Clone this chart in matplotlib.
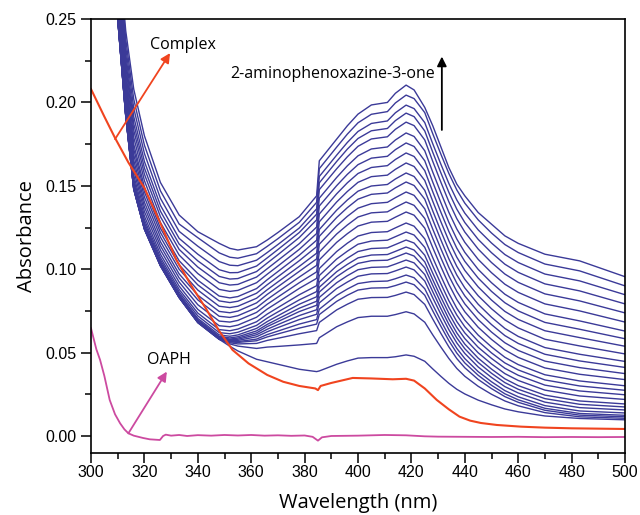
import matplotlib
matplotlib.use('Agg')
import matplotlib.pyplot as plt

# wavelength grid (nm) for the blue time-scan spectra
scan_wl = [300, 310, 313, 316, 320, 326, 333, 340, 348, 352, 355, 362, 366, 370, 378, 384.5, 385.5,
           392, 396, 400, 405, 411, 414, 418, 421, 425, 428, 431, 434, 437, 440, 445, 450, 455,
           460, 470, 483, 500]

# absorbance of each scan, first scan (lowest) to last scan (highest)
scans = [
    [0.500, 0.250, 0.192, 0.148, 0.124, 0.102, 0.083, 0.068, 0.058, 0.0538, 0.051, 0.046, 0.0445, 0.043, 0.040, 0.0386, 0.0390,
     0.0430, 0.0450, 0.0467, 0.0470, 0.0470, 0.0475, 0.0486, 0.0478, 0.0448, 0.0402, 0.0358, 0.0316, 0.0280, 0.0252, 0.0215, 0.0187, 0.0162,
     0.0145, 0.0120, 0.0105, 0.0097],
    [0.500, 0.250, 0.192, 0.148, 0.124, 0.102, 0.083, 0.068, 0.058, 0.0552, 0.0539, 0.0525, 0.0533, 0.0537, 0.0546, 0.0555, 0.0589,
     0.0655, 0.0684, 0.0710, 0.0718, 0.0718, 0.0728, 0.0745, 0.0732, 0.0682, 0.0606, 0.0534, 0.0465, 0.0405, 0.0358, 0.0298, 0.0250, 0.0210,
     0.0181, 0.0140, 0.0115, 0.0106],
    [0.500, 0.250, 0.192, 0.148, 0.124, 0.102, 0.083, 0.068, 0.058, 0.0559, 0.0552, 0.0555, 0.0573, 0.0586, 0.0613, 0.0632, 0.0681,
     0.0756, 0.0790, 0.0820, 0.0830, 0.0831, 0.0843, 0.0863, 0.0848, 0.0789, 0.0701, 0.0616, 0.0535, 0.0464, 0.0409, 0.0339, 0.0284, 0.0236,
     0.0202, 0.0154, 0.0125, 0.0115],
    [0.5005, 0.2503, 0.1923, 0.1483, 0.1243, 0.1023, 0.0832, 0.0683, 0.0583, 0.0564, 0.0561, 0.0571, 0.0594, 0.0612, 0.0647, 0.0671, 0.0728,
     0.0807, 0.0844, 0.0875, 0.0887, 0.0889, 0.0902, 0.0923, 0.0907, 0.0844, 0.0750, 0.0659, 0.0572, 0.0497, 0.0438, 0.0364, 0.0304, 0.0253,
     0.0217, 0.0166, 0.0135, 0.0124],
    [0.5005, 0.2503, 0.1923, 0.1483, 0.1243, 0.1023, 0.0832, 0.0683, 0.0583, 0.0567, 0.0566, 0.0581, 0.0608, 0.0629, 0.0671, 0.0698, 0.0760,
     0.0843, 0.0881, 0.0914, 0.0926, 0.0929, 0.0943, 0.0965, 0.0949, 0.0883, 0.0786, 0.0692, 0.0602, 0.0525, 0.0464, 0.0386, 0.0325, 0.0272,
     0.0235, 0.0182, 0.0150, 0.0138],
    [0.501, 0.2505, 0.1925, 0.1486, 0.1246, 0.1025, 0.0835, 0.0686, 0.0586, 0.0572, 0.0573, 0.0595, 0.0625, 0.0650, 0.0698, 0.0730, 0.0798,
     0.0884, 0.0923, 0.0958, 0.0972, 0.0974, 0.0990, 0.1013, 0.0996, 0.0929, 0.0828, 0.0731, 0.0638, 0.0558, 0.0495, 0.0414, 0.0351, 0.0296,
     0.0258, 0.0203, 0.0170, 0.0156],
    [0.5015, 0.2508, 0.1928, 0.1489, 0.1248, 0.1028, 0.0837, 0.0688, 0.0589, 0.0577, 0.0580, 0.0607, 0.0640, 0.0668, 0.0722, 0.0757, 0.0831,
     0.0919, 0.0961, 0.0997, 0.1011, 0.1014, 0.1031, 0.1055, 0.1038, 0.0968, 0.0865, 0.0765, 0.0670, 0.0588, 0.0523, 0.0441, 0.0376, 0.0320,
     0.0280, 0.0224, 0.0190, 0.0174],
    [0.502, 0.251, 0.193, 0.1492, 0.1251, 0.1030, 0.0840, 0.0691, 0.0592, 0.0581, 0.0587, 0.0618, 0.0656, 0.0686, 0.0746, 0.0784, 0.0863,
     0.0955, 0.0998, 0.1035, 0.1051, 0.1054, 0.1072, 0.1097, 0.1079, 0.1008, 0.0902, 0.0800, 0.0702, 0.0618, 0.0551, 0.0467, 0.0401, 0.0343,
     0.0302, 0.0245, 0.0210, 0.0192],
    [0.503, 0.2515, 0.1935, 0.1498, 0.1257, 0.1035, 0.0845, 0.0697, 0.0597, 0.0588, 0.0595, 0.0630, 0.0669, 0.0702, 0.0766, 0.0808, 0.0892,
     0.0985, 0.1029, 0.1068, 0.1085, 0.1088, 0.1107, 0.1133, 0.1115, 0.1044, 0.0937, 0.0834, 0.0736, 0.0651, 0.0584, 0.0499, 0.0432, 0.0374,
     0.0333, 0.0275, 0.0240, 0.0219],
    [0.5045, 0.2523, 0.1943, 0.1507, 0.1265, 0.1043, 0.0852, 0.0705, 0.0606, 0.0598, 0.0606, 0.0645, 0.0686, 0.0721, 0.0790, 0.0835, 0.0924,
     0.1020, 0.1066, 0.1106, 0.1124, 0.1128, 0.1148, 0.1175, 0.1157, 0.1084, 0.0976, 0.0872, 0.0772, 0.0686, 0.0618, 0.0532, 0.0465, 0.0406,
     0.0364, 0.0305, 0.0270, 0.0247],
    [0.507, 0.2535, 0.1956, 0.1522, 0.1279, 0.1055, 0.0864, 0.0720, 0.0620, 0.0613, 0.0622, 0.0663, 0.0707, 0.0744, 0.0816, 0.0866, 0.0962,
     0.1061, 0.1108, 0.1150, 0.1169, 0.1174, 0.1195, 0.1223, 0.1205, 0.1131, 0.1020, 0.0914, 0.0812, 0.0725, 0.0655, 0.0568, 0.0498, 0.0438,
     0.0396, 0.0336, 0.0300, 0.0274],
    [0.510, 0.255, 0.1971, 0.1540, 0.1296, 0.1070, 0.0879, 0.0737, 0.0638, 0.0631, 0.0641, 0.0685, 0.0731, 0.0770, 0.0847, 0.0901, 0.1004,
     0.1106, 0.1156, 0.1199, 0.1220, 0.1225, 0.1248, 0.1277, 0.1258, 0.1182, 0.1069, 0.0960, 0.0856, 0.0766, 0.0695, 0.0605, 0.0534, 0.0472,
     0.0428, 0.0367, 0.0330, 0.0301],
    [0.514, 0.257, 0.1991, 0.1564, 0.1318, 0.1090, 0.0899, 0.0759, 0.0661, 0.0655, 0.0665, 0.0712, 0.0761, 0.0802, 0.0885, 0.0945, 0.1056,
     0.1161, 0.1213, 0.1259, 0.1282, 0.1287, 0.1312, 0.1343, 0.1324, 0.1246, 0.1129, 0.1017, 0.0910, 0.0818, 0.0745, 0.0652, 0.0579, 0.0516,
     0.0471, 0.0408, 0.0370, 0.0338],
    [0.519, 0.2595, 0.2017, 0.1594, 0.1346, 0.1115, 0.0923, 0.0787, 0.0689, 0.0683, 0.0693, 0.0741, 0.0790, 0.0833, 0.0919, 0.0984, 0.1103,
     0.1211, 0.1265, 0.1313, 0.1338, 0.1344, 0.1371, 0.1403, 0.1383, 0.1304, 0.1185, 0.1070, 0.0961, 0.0867, 0.0792, 0.0698, 0.0623, 0.0559,
     0.0513, 0.0449, 0.0410, 0.0374],
    [0.524, 0.262, 0.2042, 0.1624, 0.1374, 0.1140, 0.0948, 0.0816, 0.0718, 0.0711, 0.0721, 0.0769, 0.0819, 0.0864, 0.0953, 0.1023, 0.1150,
     0.1260, 0.1317, 0.1366, 0.1393, 0.1401, 0.1429, 0.1463, 0.1443, 0.1362, 0.1240, 0.1124, 0.1012, 0.0916, 0.0840, 0.0744, 0.0668, 0.0602,
     0.0555, 0.0490, 0.0450, 0.0411],
    [0.529, 0.2645, 0.2068, 0.1654, 0.1402, 0.1165, 0.0972, 0.0844, 0.0747, 0.0739, 0.0749, 0.0798, 0.0849, 0.0895, 0.0987, 0.1062, 0.1197,
     0.1310, 0.1369, 0.1420, 0.1449, 0.1457, 0.1488, 0.1523, 0.1502, 0.1420, 0.1296, 0.1177, 0.1063, 0.0965, 0.0888, 0.0790, 0.0712, 0.0645,
     0.0597, 0.0530, 0.0490, 0.0447],
    [0.5345, 0.2673, 0.2096, 0.1687, 0.1433, 0.1193, 0.1000, 0.0875, 0.0778, 0.0770, 0.0778, 0.0826, 0.0877, 0.0924, 0.1017, 0.1096, 0.1238,
     0.1354, 0.1415, 0.1468, 0.1499, 0.1508, 0.1541, 0.1577, 0.1556, 0.1473, 0.1349, 0.1230, 0.1116, 0.1017, 0.0939, 0.0841, 0.0763, 0.0696,
     0.0648, 0.0580, 0.0540, 0.0492],
    [0.540, 0.270, 0.2124, 0.1720, 0.1464, 0.1220, 0.1026, 0.0906, 0.0810, 0.0800, 0.0808, 0.0856, 0.0907, 0.0955, 0.1051, 0.1135, 0.1284,
     0.1403, 0.1466, 0.1521, 0.1555, 0.1564, 0.1599, 0.1637, 0.1616, 0.1532, 0.1407, 0.1286, 0.1171, 0.1072, 0.0993, 0.0894, 0.0815, 0.0747,
     0.0699, 0.0631, 0.0590, 0.0538],
    [0.545, 0.2725, 0.2150, 0.1750, 0.1492, 0.1245, 0.1051, 0.0934, 0.0839, 0.0828, 0.0836, 0.0884, 0.0937, 0.0986, 0.1084, 0.1174, 0.1331,
     0.1452, 0.1518, 0.1574, 0.1610, 0.1621, 0.1658, 0.1697, 0.1676, 0.1591, 0.1464, 0.1343, 0.1227, 0.1126, 0.1047, 0.0947, 0.0867, 0.0799,
     0.0750, 0.0681, 0.0640, 0.0583],
    [0.552, 0.276, 0.2185, 0.1792, 0.1531, 0.1280, 0.1085, 0.0974, 0.0879, 0.0867, 0.0873, 0.0919, 0.0970, 0.1019, 0.1119, 0.1214, 0.1379,
     0.1501, 0.1569, 0.1627, 0.1666, 0.1677, 0.1717, 0.1757, 0.1736, 0.1650, 0.1522, 0.1400, 0.1282, 0.1181, 0.1101, 0.0999, 0.0919, 0.0850,
     0.0801, 0.0732, 0.0690, 0.0629],
    [0.559, 0.2795, 0.2221, 0.1834, 0.1570, 0.1315, 0.1119, 0.1013, 0.0919, 0.0905, 0.0909, 0.0953, 0.1003, 0.1053, 0.1153, 0.1253, 0.1426,
     0.1550, 0.1620, 0.1680, 0.1721, 0.1733, 0.1775, 0.1817, 0.1796, 0.1710, 0.1582, 0.1460, 0.1342, 0.1241, 0.1161, 0.1059, 0.0979, 0.0910,
     0.0861, 0.0792, 0.0750, 0.0683],
    [0.5655, 0.2828, 0.2254, 0.1873, 0.1607, 0.1348, 0.1151, 0.1050, 0.0957, 0.0941, 0.0944, 0.0986, 0.1037, 0.1087, 0.1190, 0.1296, 0.1477,
     0.1602, 0.1674, 0.1737, 0.1781, 0.1794, 0.1839, 0.1882, 0.1861, 0.1775, 0.1646, 0.1523, 0.1405, 0.1303, 0.1223, 0.1121, 0.1040, 0.0971,
     0.0921, 0.0852, 0.0810, 0.0738],
    [0.5725, 0.2863, 0.2290, 0.1915, 0.1646, 0.1383, 0.1185, 0.1090, 0.0997, 0.0979, 0.0980, 0.1019, 0.1068, 0.1118, 0.1220, 0.1330, 0.1518,
     0.1646, 0.1720, 0.1784, 0.1830, 0.1844, 0.1891, 0.1936, 0.1915, 0.1829, 0.1701, 0.1579, 0.1462, 0.1360, 0.1280, 0.1179, 0.1099, 0.1030,
     0.0981, 0.0912, 0.0870, 0.0792],
    [0.581, 0.2905, 0.2333, 0.1966, 0.1694, 0.1425, 0.1227, 0.1138, 0.1046, 0.1024, 0.1021, 0.1054, 0.1100, 0.1148, 0.1247, 0.1362, 0.1556,
     0.1684, 0.1760, 0.1826, 0.1874, 0.1889, 0.1938, 0.1984, 0.1963, 0.1879, 0.1752, 0.1631, 0.1515, 0.1415, 0.1336, 0.1236, 0.1157, 0.1088,
     0.1040, 0.0971, 0.0930, 0.0847],
    [0.590, 0.295, 0.2379, 0.2020, 0.1744, 0.1470, 0.1271, 0.1189, 0.1098, 0.1072, 0.1066, 0.1093, 0.1137, 0.1183, 0.1281, 0.1401, 0.1603,
     0.1732, 0.1810, 0.1878, 0.1929, 0.1945, 0.1997, 0.2044, 0.2023, 0.1939, 0.1812, 0.1691, 0.1575, 0.1475, 0.1396, 0.1296, 0.1217, 0.1148,
     0.1100, 0.1031, 0.0990, 0.0900],
    [0.600, 0.300, 0.243, 0.208, 0.180, 0.152, 0.1325, 0.1225, 0.1155, 0.1125, 0.1115, 0.1135, 0.1175, 0.1220, 0.1315, 0.1440, 0.1650,
     0.1780, 0.1860, 0.1930, 0.1985, 0.2000, 0.2055, 0.2104, 0.2075, 0.1970, 0.1860, 0.1735, 0.1610, 0.1510, 0.1440, 0.1340, 0.1270, 0.1200,
     0.1155, 0.1090, 0.1050, 0.0955],
]

# complex alone (red)
complex_wl = [300, 305, 309, 314, 320, 326, 332, 338, 343, 348, 353, 359, 366, 372, 378, 384, 385, 386,
              390, 398, 405, 413, 418, 421, 425, 429.5, 434, 438, 442, 446, 452, 461, 470, 480, 490, 500]
complex_abs = [0.208, 0.1915, 0.1787, 0.164, 0.1487, 0.1275, 0.1055, 0.089, 0.0765, 0.063, 0.0516, 0.0435,
               0.0366, 0.0325, 0.030, 0.0285, 0.0275, 0.030, 0.0318, 0.0348, 0.0345, 0.034, 0.0343, 0.0332,
               0.0285, 0.0216, 0.016, 0.0116, 0.0092, 0.0078, 0.0066, 0.0056, 0.0050, 0.0046, 0.0044, 0.0042]

# OAPH alone (magenta)
oaph_wl = [300, 302, 303.4, 305, 307, 309, 310.9, 312.5, 314, 316, 319.5, 322, 325.8, 327, 328, 330, 333,
           336, 340, 345, 350, 355, 360, 365, 370, 375, 380, 383, 385, 386.5, 390, 400, 410, 418, 425, 430,
           440, 450, 460, 470, 480, 490, 500]
oaph_abs = [0.0646, 0.052, 0.0456, 0.036, 0.0216, 0.013, 0.0076, 0.004, 0.0016, 0.0002, -0.0012, -0.002,
            -0.0024, 0.0, 0.0008, 0.0002, 0.0006, 0.0, 0.0005, 0.0002, 0.0006, 0.0003, 0.0006, 0.0002, 0.0004,
            0.0001, 0.0003, -0.0005, -0.0028, -0.0008, 0.0, 0.0002, 0.0006, 0.0004, -0.0002, -0.0004, -0.0005,
            -0.0006, -0.0005, -0.0007, -0.0006, -0.0007, -0.0006]

blue = '#3b3a98'
red = '#f0441f'
magenta = '#cc4aa0'

fig = plt.figure(figsize=(6.4, 5.15), dpi=100)
ax = fig.add_axes([0.1422, 0.1204, 0.8344, 0.8426])

for s in scans:
    ax.plot(scan_wl, s, color=blue, linewidth=1.0)
ax.plot(complex_wl, complex_abs, color=red, linewidth=1.5)
ax.plot(oaph_wl, oaph_abs, color=magenta, linewidth=1.3)

ax.set_xlim(300, 500)
ax.set_ylim(-0.0102, 0.25)
ax.set_xticks(range(300, 501, 20))
ax.set_xticks(range(310, 500, 20), minor=True)
ax.set_yticks([0.0, 0.05, 0.10, 0.15, 0.20, 0.25])
ax.set_yticks([0.025, 0.075, 0.125, 0.175, 0.225], minor=True)
ax.set_yticklabels(['0.00', '0.05', '0.10', '0.15', '0.20', '0.25'])
ax.tick_params(which='major', direction='out', length=7, width=1.1, labelsize=11.5,
               top=False, right=False)
ax.tick_params(axis='x', which='major', pad=2)
ax.tick_params(which='minor', direction='out', length=4, width=1.1, top=False, right=False)
for lab in ax.get_xticklabels() + ax.get_yticklabels():
    lab.set_fontfamily('Liberation Sans')
for sp in ax.spines.values():
    sp.set_linewidth(1.2)

ax.set_xlabel('Wavelength (nm)', fontsize=14.5, family='Open Sans', labelpad=9)
ax.set_ylabel('Absorbance', fontsize=14.5, family='Open Sans', labelpad=6)

# annotations
ax.annotate('', xy=(329.6, 0.2296), xytext=(309.0, 0.178),
            arrowprops=dict(arrowstyle='-|>', color=red, lw=1.3, mutation_scale=14, shrinkA=0, shrinkB=0))
ax.text(322.1, 0.2344, 'Complex', fontsize=11.5, family='Open Sans', va='center', ha='left')

ax.annotate('', xy=(328.4, 0.0386), xytext=(314.0, 0.0016),
            arrowprops=dict(arrowstyle='-|>', color=magenta, lw=1.3, mutation_scale=14, shrinkA=0, shrinkB=0))
ax.text(320.9, 0.0456, 'OAPH', fontsize=11.5, family='Open Sans', va='center', ha='left')

ax.annotate('', xy=(431.4, 0.2275), xytext=(431.4, 0.1835),
            arrowprops=dict(arrowstyle='-|>', color='black', lw=1.3, mutation_scale=14, shrinkA=0, shrinkB=0))
ax.text(352.1, 0.217, '2-aminophenoxazine-3-one', fontsize=11.5, family='Open Sans', va='center', ha='left')

fig.savefig('out.png', dpi=100)
